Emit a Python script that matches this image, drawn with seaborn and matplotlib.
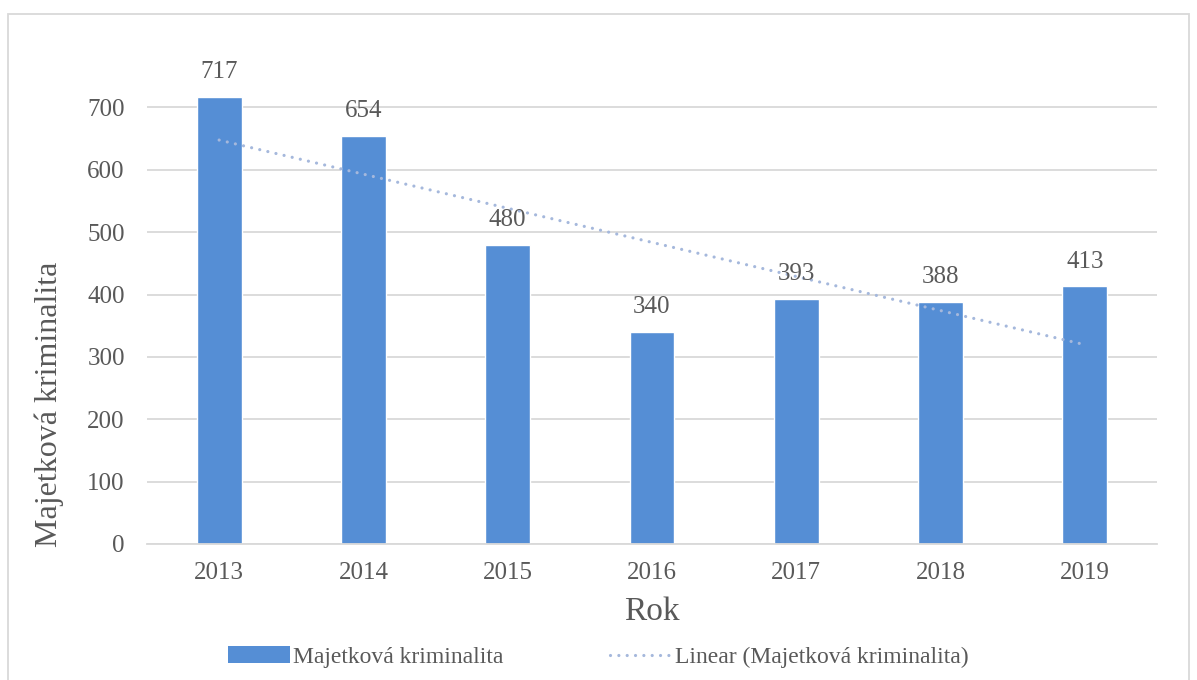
import matplotlib
matplotlib.use("Agg")
import matplotlib.pyplot as plt
from matplotlib.patches import Rectangle
from matplotlib.lines import Line2D
import seaborn as sns
import pandas as pd
import numpy as np

# data
years = ["2013", "2014", "2015", "2016", "2017", "2018", "2019"]
crimes = [717, 654, 480, 340, 393, 388, 413]

bar_color = "#558ED5"
trend_color = "#A5B8DC"
text_color = "#595959"
dots = (0, (0.01, 2.6))

sns.set_theme(style="white")
plt.rcParams["font.family"] = ["Liberation Serif", "DejaVu Serif"]

df = pd.DataFrame({"Rok": years, "Majetková kriminalita": crimes})

fig = plt.figure(figsize=(11.97, 6.80), dpi=100)
ax = fig.add_axes([147 / 1197, 1 - 544 / 680, (1157 - 147) / 1197, (544 - 45) / 680])

sns.barplot(data=df, x="Rok", y="Majetková kriminalita", color=bar_color,
            width=0.31, saturation=1, ax=ax)

# linear trend (Excel-style)
xs = np.arange(len(crimes))
k, q = np.polyfit(xs, crimes, 1)
ax.plot(xs, k * xs + q, color=trend_color, linestyle=dots, linewidth=2.3,
        dash_capstyle="round")

# value labels
for i, v in enumerate(crimes):
    ax.text(i, v + 22, str(v), ha="center", va="bottom", fontsize=18, color=text_color)

ax.set_ylim(0, 800)
ax.set_yticks(range(0, 701, 100))
ax.set_xlim(-0.5, len(years) - 0.5)
ax.yaxis.grid(True, color="#D9D9D9", linewidth=1.3)
ax.set_axisbelow(True)
for s in ["top", "right", "left"]:
    ax.spines[s].set_visible(False)
ax.spines["bottom"].set_color("#D9D9D9")
ax.spines["bottom"].set_linewidth(1.3)
ax.tick_params(axis="both", length=0, labelsize=18, colors=text_color)
ax.tick_params(axis="x", pad=13)
ax.tick_params(axis="y", pad=16)

ax.set_xlabel("Rok", fontsize=24, color=text_color)
ax.xaxis.set_label_coords(0.5, -0.106)
ax.set_ylabel("Majetková kriminalita", fontsize=23, color=text_color)
ax.yaxis.set_label_coords(-0.082, 0.28)

handles = [
    Rectangle((0, 0), 1, 1, facecolor=bar_color, edgecolor="none"),
    Line2D([0], [0], color=trend_color, linestyle=dots, linewidth=2.3,
           dash_capstyle="round"),
]
fig.legend(handles, ["Majetková kriminalita", "Linear (Majetková kriminalita)"],
           loc="center", bbox_to_anchor=(0.5, 1 - 657 / 680), ncol=2, frameon=False,
           fontsize=17, labelcolor=text_color, handlelength=2.6, handleheight=0.7,
           handletextpad=0.15, columnspacing=4.5)

# chart border
fig.patches.append(Rectangle((8 / 1197, -0.01), 1181 / 1197, 1 - 14 / 680 + 0.01,
                             transform=fig.transFigure, fill=False,
                             edgecolor="#D9D9D9", linewidth=1.3))

fig.savefig("out.png", dpi=100)
